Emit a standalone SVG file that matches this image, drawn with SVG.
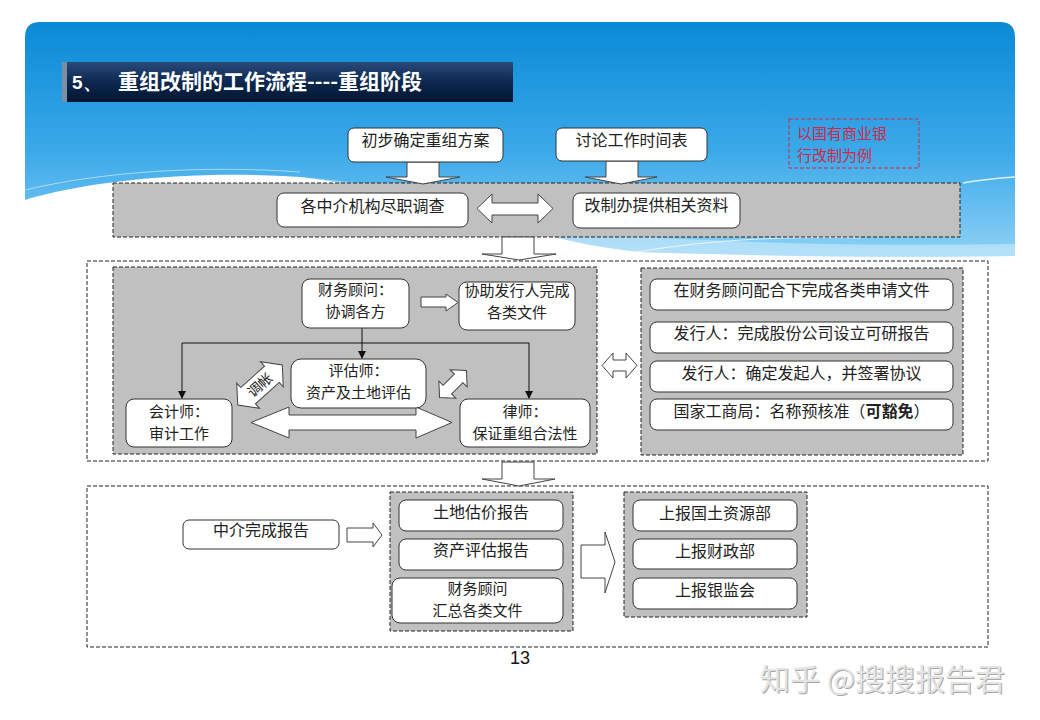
<svg xmlns="http://www.w3.org/2000/svg" width="1040" height="720" viewBox="0 0 1040 720">
<defs>
<linearGradient id="sky" x1="0" y1="22" x2="0" y2="258" gradientUnits="userSpaceOnUse">
<stop offset="0" stop-color="#0a8ad6"/>
<stop offset="0.55" stop-color="#3ba9e9"/>
<stop offset="1" stop-color="#8fd2f6"/>
</linearGradient>
<linearGradient id="title" x1="0" y1="0" x2="0" y2="1">
<stop offset="0" stop-color="#2a4a7a"/>
<stop offset="0.5" stop-color="#0c2850"/>
<stop offset="1" stop-color="#021630"/>
</linearGradient>
<marker id="ah" markerWidth="8" markerHeight="8" refX="7" refY="4" orient="auto" markerUnits="userSpaceOnUse">
<path d="M0,0 L8,4 L0,8 Z" fill="#111"/>
</marker>
<style>
.box{fill:#fff;stroke:#333;stroke-width:1}
.gray{fill:#c0c0c0;stroke:#222;stroke-width:1;stroke-dasharray:4 2}
.outer{fill:none;stroke:#222;stroke-width:1;stroke-dasharray:4 2}
.blk{fill:#fff;stroke:#444;stroke-width:1;stroke-linejoin:miter}
.ln{stroke:#111;stroke-width:1;fill:none}
.t{font-family:"Noto Sans CJK SC","Noto Sans CJK JP",sans-serif;font-size:16px;fill:#222;text-anchor:middle}
.t2{font-family:"Noto Sans CJK SC","Noto Sans CJK JP",sans-serif;font-size:15px;fill:#222;text-anchor:middle}
.red{font-family:"Noto Sans CJK SC","Noto Sans CJK JP",sans-serif;font-size:15px;fill:#d02848}
</style>
</defs>
<rect width="1040" height="720" fill="#fff"/>
<g id="background">
<path d="M25,37 Q25,22 40,22 H1000 Q1015,22 1015,37 V256 C900,258 760,256 640,252 C520,240 420,190 300,177 C200,170 90,180 25,200 Z" fill="url(#sky)"/>
<path d="M300,177 C420,190 520,240 640,252 C760,256 900,258 1015,256 V244 C900,246 780,244 660,238 C540,226 430,186 300,177 Z" fill="#fff" opacity="0.35"/>
<path d="M963,183 C980,180 1000,178 1015,177" stroke="#fff" stroke-width="1.5" fill="none" opacity="0.8"/>
<path d="M620,255 C700,240 780,236 860,238" stroke="#fff" stroke-width="1" fill="none" opacity="0.7"/>
<path d="M25,190 C100,172 200,165 300,172" stroke="#fff" stroke-width="1" fill="none" opacity="0.5"/>
</g>
<g id="title-bar">
<rect x="62" y="62" width="451" height="40" fill="url(#title)"/>
<rect x="62" y="62" width="5" height="40" fill="#7d8ea4"/>
<text x="72" y="89" font-family="Liberation Sans, Arial, sans-serif" font-size="19" font-weight="bold" fill="#fff">5、</text>
<text x="118" y="89" font-family="Noto Sans CJK SC, Noto Sans CJK JP, sans-serif" font-size="21" font-weight="bold" fill="#fff">重组改制的工作流程----重组阶段</text>
</g>
<g id="containers">
<rect class="gray" x="113" y="183" width="847" height="54"/>
<rect class="outer" x="87" y="261" width="901" height="200"/>
<rect class="gray" x="113" y="267" width="484" height="187"/>
<rect class="gray" x="641" y="268" width="322" height="187"/>
<rect class="outer" x="87" y="486" width="901" height="161"/>
<rect class="gray" x="390" y="492" width="183" height="139"/>
<rect class="gray" x="624" y="492" width="183" height="125"/>
</g>
<g id="connectors">
<polygon class="blk" points="407,162 439,162 439,177 460,177 423,184 386,177 407,177"/>
<polygon class="blk" points="606,161 638,161 638,177 657,177 621,184 585,177 606,177"/>
<polygon class="blk" points="477,208.5 492,194 492,203 538,203 538,194 553,208.5 538,223 538,215 492,215 492,223"/>
<polygon class="blk" points="502,237 534,237 534,254 556,254 519,260 482,254 502,254"/>
<polygon class="blk" points="421,297 446,297 446,294 458,302.5 446,311 446,307 421,307"/>
<polyline class="ln" points="362,328 362,343"/>
<line class="ln" x1="362" y1="343" x2="362" y2="358" marker-end="url(#ah)"/>
<line class="ln" x1="182" y1="343" x2="529" y2="343"/>
<line class="ln" x1="182" y1="343" x2="182" y2="398" marker-end="url(#ah)"/>
<line class="ln" x1="529" y1="343" x2="529" y2="398" marker-end="url(#ah)"/>
<polygon class="blk" points="251,422.5 289,407 289,415 416,415 416,407 452,422.5 416,438 416,430 289,430 289,438"/>
<g transform="translate(260,385) rotate(-42)">
<polygon class="blk" points="-30,0 -16,-17 -16,-11 16,-11 16,-17 30,0 16,17 16,11 -16,11 -16,17"/>
<text x="0" y="5" font-family="Noto Sans CJK SC, Noto Sans CJK JP, sans-serif" font-size="14" fill="#222" text-anchor="middle">调帐</text>
</g>
<g transform="translate(453,384) rotate(-45)">
<polygon class="blk" points="-19,0 -8,-12 -8,-6 8,-6 8,-12 19,0 8,12 8,6 -8,6 -8,12"/>
</g>
<polygon class="blk" points="602,365.5 613,353 613,360 626,360 626,353 637,365.5 626,378 626,371 613,371 613,378"/>
<polygon class="blk" points="502,462 534,462 534,479 555,479 519,486 482,479 502,479"/>
<polygon class="blk" points="347,528 373,528 373,523 382,535 373,547 373,542 347,542"/>
<polygon class="blk" points="581,545 605,545 605,532 615,562 605,593 605,578 581,578"/>
</g>
<g id="note">
<rect x="789" y="119" width="130" height="49" fill="none" stroke="#d02848" stroke-width="1" stroke-dasharray="4 2"/>
<text class="red" x="797" y="139">以国有商业银</text>
<text class="red" x="797" y="161">行改制为例</text>
</g>
<g id="n-plan"><rect class="box" x="348" y="128" width="155" height="34" rx="6"/><text class="t" x="425.5" y="146">初步确定重组方案</text></g>
<g id="n-schedule"><rect class="box" x="556" y="128" width="151" height="33" rx="6"/><text class="t" x="631.5" y="146">讨论工作时间表</text></g>
<g id="n-duediligence"><rect class="box" x="277" y="193" width="191" height="34" rx="7"/><text class="t" x="372.5" y="212">各中介机构尽职调查</text></g>
<g id="n-materials"><rect class="box" x="573" y="193" width="167" height="35" rx="7"/><text class="t" x="656.5" y="211">改制办提供相关资料</text></g>
<g id="n-advisor"><rect class="box" x="302" y="279" width="107" height="49" rx="8"/><text class="t2" x="355.5" y="295">财务顾问：</text><text class="t2" x="355.5" y="317">协调各方</text></g>
<g id="n-assist"><rect class="box" x="459" y="282" width="116" height="48" rx="8"/><text class="t2" x="517" y="296">协助发行人完成</text><text class="t2" x="517" y="318">各类文件</text></g>
<g id="n-appraiser"><rect class="box" x="291" y="359" width="135" height="49" rx="10"/><text class="t2" x="358.5" y="376">评估师：</text><text class="t2" x="358.5" y="398">资产及土地评估</text></g>
<g id="n-accountant"><rect class="box" x="126" y="399" width="106" height="48" rx="8"/><text class="t2" x="179" y="417">会计师：</text><text class="t2" x="179" y="439">审计工作</text></g>
<g id="n-lawyer"><rect class="box" x="460" y="399" width="130" height="48" rx="8"/><text class="t2" x="525" y="417">律师：</text><text class="t2" x="525" y="439">保证重组合法性</text></g>
<g id="n-apply"><rect class="box" x="650" y="279" width="303" height="31" rx="7"/><text class="t" x="801.5" y="296">在财务顾问配合下完成各类申请文件</text></g>
<g id="n-feasibility"><rect class="box" x="650" y="322" width="303" height="31" rx="7"/><text class="t" x="801.5" y="339">发行人：完成股份公司设立可研报告</text></g>
<g id="n-promoter"><rect class="box" x="650" y="361" width="303" height="31" rx="7"/><text class="t" x="801.5" y="379">发行人：确定发起人，并签署协议</text></g>
<g id="n-name"><rect class="box" x="650" y="399" width="303" height="31" rx="7"/><text class="t" x="801.5" y="417">国家工商局：名称预核准（<tspan font-weight="bold">可豁免</tspan>）</text></g>
<g id="n-report"><rect class="box" x="183" y="520" width="156" height="29" rx="6"/><text class="t" x="261" y="536">中介完成报告</text></g>
<g id="n-land"><rect class="box" x="399" y="500" width="164" height="31" rx="7"/><text class="t" x="481" y="518">土地估价报告</text></g>
<g id="n-asset"><rect class="box" x="399" y="539" width="164" height="31" rx="7"/><text class="t" x="481" y="556">资产评估报告</text></g>
<g id="n-summary"><rect class="box" x="392" y="578" width="171" height="45" rx="8"/><text class="t2" x="477.5" y="594">财务顾问</text><text class="t2" x="477.5" y="616">汇总各类文件</text></g>
<g id="n-land-ministry"><rect class="box" x="633" y="500" width="164" height="31" rx="7"/><text class="t" x="715" y="519">上报国土资源部</text></g>
<g id="n-finance"><rect class="box" x="633" y="539" width="164" height="30" rx="7"/><text class="t" x="715" y="557">上报财政部</text></g>
<g id="n-cbrc"><rect class="box" x="633" y="578" width="164" height="31" rx="7"/><text class="t" x="715" y="596">上报银监会</text></g>
<text x="520" y="664" font-family="Liberation Sans, Arial, sans-serif" font-size="18" fill="#111" text-anchor="middle">13</text>
<g id="watermark" font-family="Noto Sans CJK SC, Noto Sans CJK JP, sans-serif" font-size="30">
<text x="761" y="691" fill="#a8a8a8">知乎 @搜搜报告君</text>
<text x="760" y="690" fill="#e4e4e4">知乎 @搜搜报告君</text>
</g>
</svg>
